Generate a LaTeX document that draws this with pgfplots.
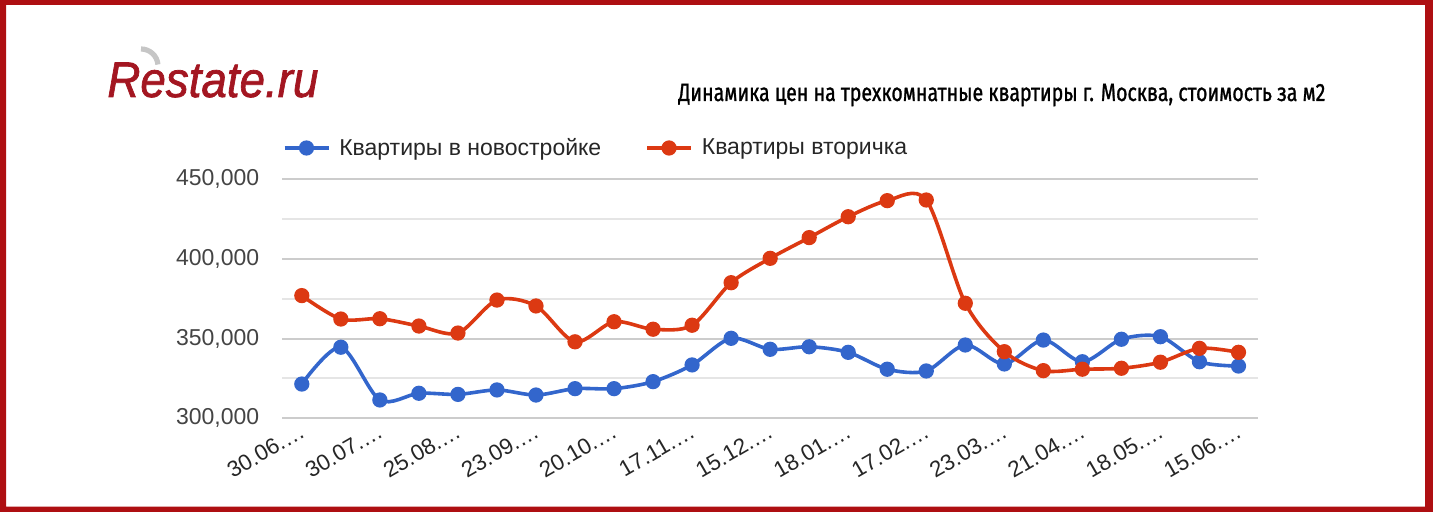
\documentclass[border=0pt]{standalone}
\usepackage{fontspec}
\setmainfont{Liberation Sans}
\newfontfamily\titlefont{Fira Sans}[FakeBold=1.3]
\newfontfamily\logofont{Liberation Sans}[FakeBold=1.5]
\usepackage{graphicx}
\usepackage{pgfplots}
\pgfplotsset{compat=1.18}
\definecolor{gblue}{HTML}{3366CC}
\definecolor{gred}{HTML}{DC3912}
\definecolor{frame}{HTML}{AE0F12}
\definecolor{logored}{HTML}{A31621}
\definecolor{ticktext}{HTML}{444444}
\begin{document}
\begin{tikzpicture}
\fill[frame, even odd rule] (0,0) rectangle (716.5pt,256pt) (3pt,2.65pt) rectangle (712.5pt,253.5pt);
% logo
\draw[gray!45, line width=2.6pt] (70.5pt,231.5pt) arc[start angle=90, end angle=5, radius=8.5pt];
\node[anchor=base west, inner sep=0pt] at (53.5pt,207.5pt) {\resizebox{105.5pt}{\height}{\color{logored}\fontsize{25}{25}\selectfont\logofont\itshape Restate.ru}};
% title
\node[anchor=base west, inner sep=0pt] at (339pt,205.5pt) {\resizebox{323.5pt}{\height}{\fontsize{12.5}{12.5}\selectfont\titlefont Динамика цен на трехкомнатные квартиры г. Москва, стоимость за м2}};
\begin{axis}[
  at={(141.15pt,46.85pt)}, anchor=south west,
  scale only axis, width=487.85pt, height=119.5pt,
  xmin=-0.5, xmax=24.5, ymin=300000, ymax=450000,
  axis line style={draw=none},
  major tick length=0pt, minor tick length=0pt,
  xtick={0,2,...,24},
  xticklabels={30.06.…,30.07.…,25.08.…,23.09.…,20.10.…,17.11.…,15.12.…,18.01.…,17.02.…,23.03.…,21.04.…,18.05.…,15.06.…},
  ytick={300000,350000,400000,450000},
  minor ytick={325000,375000,425000},
  ymajorgrids, yminorgrids,
  major grid style={draw=black!20, line width=1pt},
  minor grid style={draw=black!10, line width=1pt},
  scaled y ticks=false,
  /pgf/number format/.cd, fixed, 1000 sep={,}, assume math mode=true,
  /pgfplots/.cd,
  tick label style={text=ticktext, font=\fontsize{11.5}{12}\selectfont},
  yticklabel style={xshift=-8pt},
  xticklabel style={rotate=30, anchor=east, font=\fontsize{11.2}{12}\selectfont, text=black!85, xshift=1pt, yshift=-5pt},
  legend columns=2,
  legend style={at={(0,1)}, anchor=west, yshift=15.65pt, draw=none, fill=none,
    inner xsep=0pt, inner ysep=0pt, font=\fontsize{11.5}{12}\selectfont, text=black!85,
    cells={anchor=west},
    /tikz/every odd column/.append style={column sep=2.5pt},
    /tikz/every even column/.append style={column sep=20pt}},
  legend image code/.code={\draw[#1, mark repeat=2, mark phase=2] plot coordinates {(0pt,0pt) (11pt,0pt) (22pt,0pt)};},
  every axis plot/.append style={line width=1.8pt, mark=*, mark size=2.9pt},
]
\addplot[gblue, smooth, tension=0.5, mark options={draw=none, fill=gblue}] coordinates {
(0,321500) (1,344600) (2,311500) (3,315700) (4,315000) (5,317800) (6,314600) (7,318600) (8,318600) (9,323000)
(10,333500) (11,350200) (12,343300) (13,344900) (14,341400) (15,330800) (16,329700) (17,346000) (18,334100) (19,349100)
(20,335500) (21,349600) (22,351200) (23,335500) (24,332800)};
\addlegendentry{Квартиры в новостройке}
\addplot[gred, smooth, tension=0.5, mark options={draw=none, fill=gred}] coordinates {
(0,377000) (1,362300) (2,362500) (3,357900) (4,353500) (5,374200) (6,370500) (7,348000) (8,360600) (9,355900)
(10,358400) (11,385100) (12,400400) (13,413400) (14,426500) (15,436600) (16,437000) (17,372200) (18,341800) (19,329900)
(20,330800) (21,331400) (22,335200) (23,343900) (24,341400)};
\addlegendentry{Квартиры вторичка}
\end{axis}
\pgfresetboundingbox
\useasboundingbox (0,0) rectangle (716.5pt,256pt);
\end{tikzpicture}
\end{document}
